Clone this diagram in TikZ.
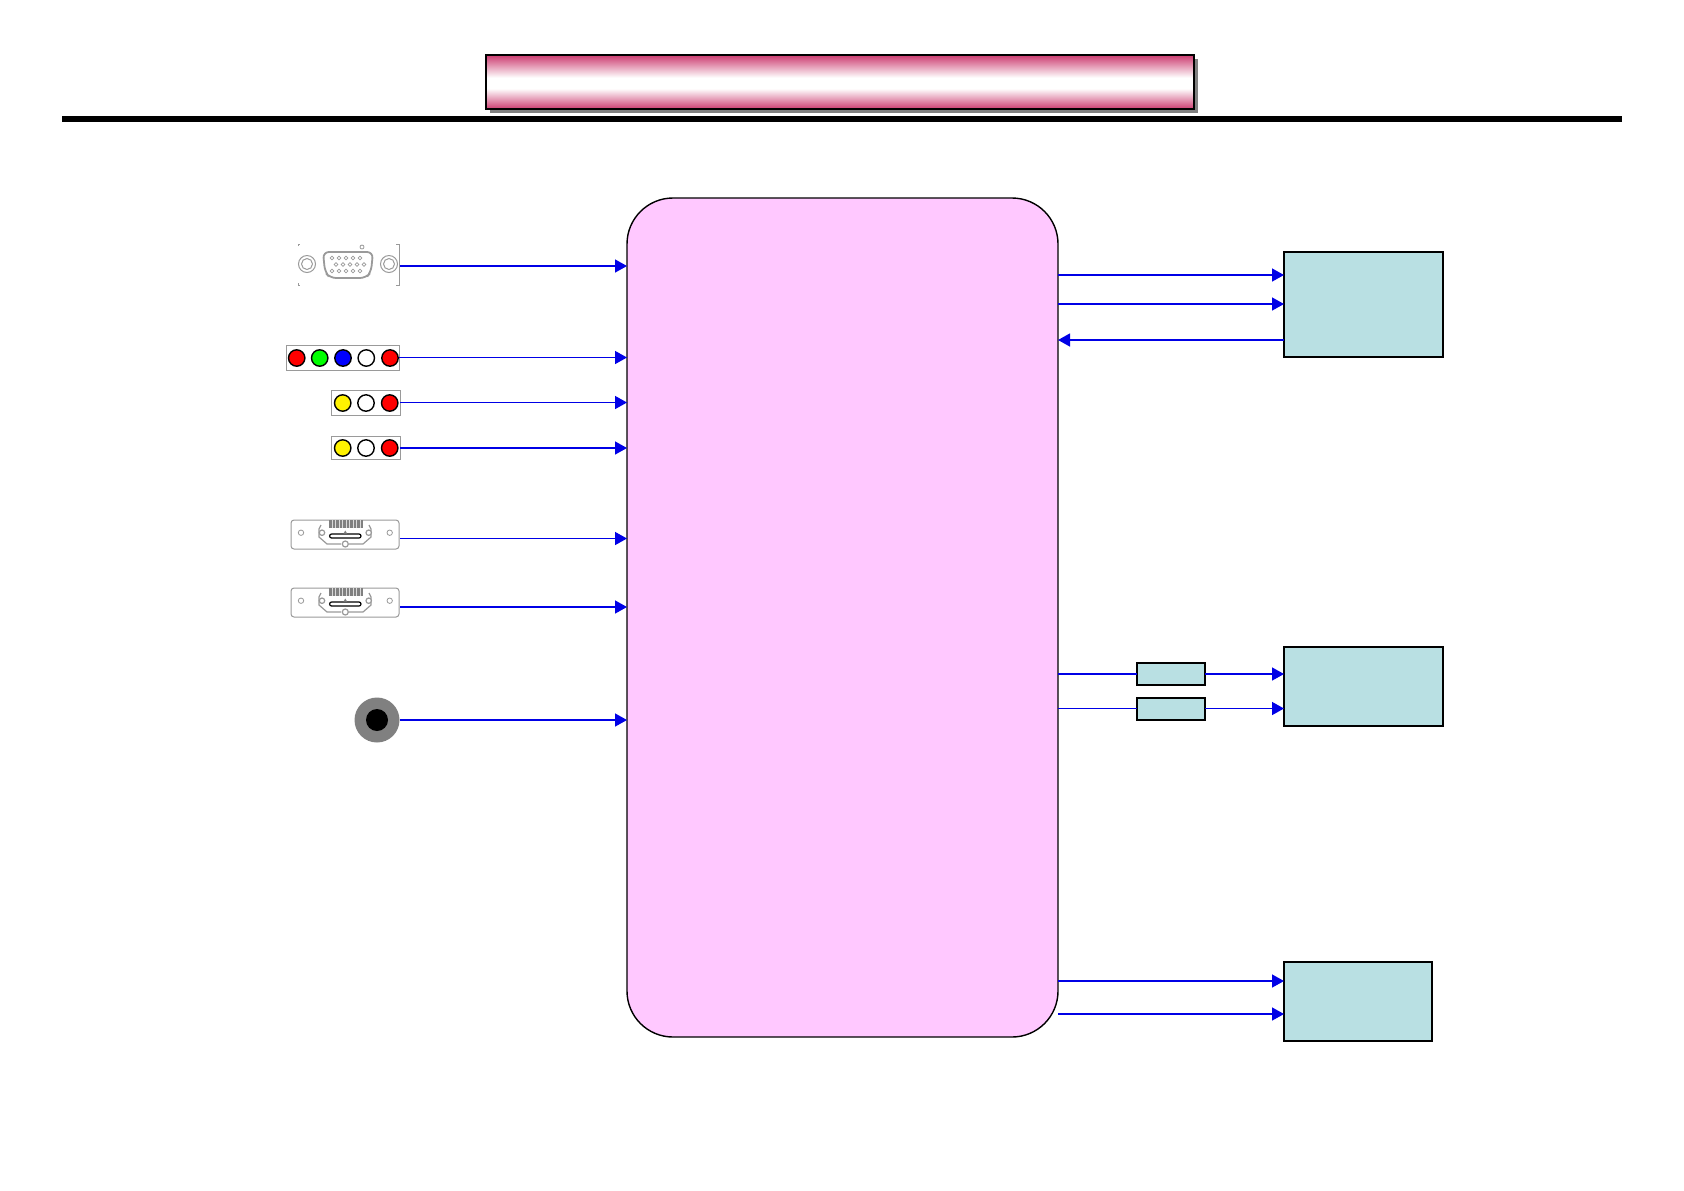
\documentclass[tikz,border=0pt]{standalone}
\usepackage{xcolor}
\usetikzlibrary{arrows.meta, shadows}
\definecolor{chip}{HTML}{FFC8FF}
\definecolor{panel}{HTML}{B9E0E3}
\definecolor{titlepink}{HTML}{CC3C70}
\definecolor{signal}{HTML}{0000E6}
\definecolor{icon}{HTML}{9A9A9A}
\definecolor{jackgreen}{HTML}{00FF00}
\pgfdeclareverticalshading{titlefade}{100bp}{color(0bp)=(titlepink); color(25bp)=(titlepink); color(44bp)=(white); color(54bp)=(white); color(75bp)=(titlepink); color(100bp)=(titlepink)}
\tikzset{
    chipbox/.style={rectangle, rounded corners=23pt, draw=black, line width=0.7pt, fill=chip,
                    minimum width=215.5pt, minimum height=419.5pt, outer sep=0pt},
    panelbox/.style={rectangle, draw=black, line width=1pt, fill=panel, minimum width=79.5pt, outer sep=0pt},
    smallbox/.style={panelbox, minimum width=34pt, minimum height=11pt},
    strip/.style={rectangle, draw=icon, line width=0.4pt, fill=white, minimum height=12.5pt, outer sep=0pt},
    jack/.style={circle, draw=black, line width=0.7pt, minimum size=8.2pt, inner sep=0pt},
    plate/.style={rectangle, rounded corners=1.5pt, draw=icon, line width=0.5pt, fill=white,
                  minimum width=54pt, minimum height=14.5pt, outer sep=0pt},
    arr/.style={-{Triangle[length=6pt, width=6.5pt]}, line width=0.7pt, color=signal},
    wire/.style={line width=0.7pt, color=signal},
    hdmipic/.pic={
        \draw[icon, line width=0.6pt] (30,5) -- (28,9) -- (28,17) -- (36,24) -- (50,24);
        \draw[icon, line width=0.6pt] (58,24) -- (72,24) -- (80,17) -- (80,9) -- (78,5);
        \fill[gray] (38,0) rectangle (72,8.3);
        \foreach \i in {41,44.5,...,70}
            \draw[white!70!gray, line width=0.3pt] (\i,0) -- (\i,8.3);
        \draw[black, line width=0.6pt, rounded corners=1pt] (38.6,14) rectangle (70,18);
        \fill[gray] (54.3,10.5) -- (52.5,13.5) -- (56.1,13.5) -- cycle;
        \draw[icon, line width=0.4pt, fill=white] (10,12.7) circle (2.7);
        \draw[icon, line width=0.4pt, fill=white] (98.7,12.7) circle (2.7);
        \draw[icon, line width=0.6pt, fill=white] (31,12.7) circle (2.7);
        \draw[icon, line width=0.6pt, fill=white] (77.7,12.7) circle (2.7);
        \draw[icon, line width=0.6pt, fill=white] (54.3,24) circle (3);
    },
}
\begin{document}
\begin{tikzpicture}[x=0.5pt, y=-0.5pt]
  \useasboundingbox (0,0) rectangle (1684,1190);

  % Title bar and rule
  \node[rectangle, draw=black, line width=1pt, shading=titlefade,
        minimum width=354pt, minimum height=27pt, outer sep=0pt,
        copy shadow={shadow xshift=2.2pt, shadow yshift=-2.2pt, fill=gray, draw=none}] (title) at (840,82) {};
  \node[rectangle, fill=black, minimum width=780pt, minimum height=3pt, inner sep=0pt] (rule) at (842,119) {};

  % Main chip
  \node[chipbox] (main) at (842.5,617.5) {};

  % Output panels
  \node[panelbox, minimum height=52.5pt] (panela) at (1363.5,304.5) {};
  \node[panelbox, minimum height=39.5pt] (panelb) at (1363.5,686.5) {};
  \node[panelbox, minimum width=74pt, minimum height=39.5pt] (panelc) at (1358,1001.5) {};
  \node[smallbox] (filta) at (1171,674) {};
  \node[smallbox] (filtb) at (1171,708.5) {};

  % VGA connector
  \node[rectangle, minimum width=50.5pt, minimum height=20.5pt, outer sep=0pt] (vga) at (348.5,264.5) {};
  \draw[icon, line width=0.5pt] (396,244) -- (399,244) -- (399,285) -- (396,285);
  \draw[icon, line width=0.5pt] (298,246) -- (298,244) -- (300,244) (298,283) -- (298,285) -- (300,285);
  \foreach \x in {307,389} {
      \draw[icon, line width=0.5pt] (\x,264) circle (8.5);
      \draw[icon, line width=0.5pt] (\x,264) circle (5.5);
  }
  \draw[icon, line width=0.9pt, rounded corners=3pt] (323,252) -- (373,252) -- (371,272) -- (366,278) -- (330,278) -- (325,272) -- cycle;
  \draw[icon, line width=0.4pt] (362,247) circle (2);
  \foreach \i in {0,...,4} {
      \draw[icon, line width=0.4pt] (332+7*\i,258) circle (1.9);
      \draw[icon, line width=0.4pt] (336+7*\i,264.5) circle (1.9);
      \draw[icon, line width=0.4pt] (332+7*\i,271) circle (1.9);
  }
  \coordinate (vgaport) at (400,266);

  % RCA strips
  \node[strip, minimum width=56.5pt] (rgb) at (342.75,357.5) {};
  \node[jack, fill=red] (rgba) at (296.7,358) {};
  \node[jack, fill=jackgreen] (rgbb) at (319.7,358) {};
  \node[jack, fill=blue] (rgbc) at (343,358) {};
  \node[jack, fill=white] (rgbd) at (366.3,358) {};
  \node[jack, fill=red] (rgbe) at (390,358) {};

  \node[strip, minimum width=34.5pt] (cva) at (365.75,402.5) {};
  \node[jack, fill=yellow] (cvaa) at (342.7,403) {};
  \node[jack, fill=white] (cvab) at (366,403) {};
  \node[jack, fill=red] (cvac) at (389.7,403) {};

  \node[strip, minimum width=34.5pt, minimum height=11.5pt] (cvb) at (365.75,448) {};
  \node[jack, fill=yellow] (cvba) at (342.7,448) {};
  \node[jack, fill=white] (cvbb) at (366,448) {};
  \node[jack, fill=red] (cvbc) at (389.7,448) {};

  % HDMI connectors
  \node[plate] (hdmia) at (345,534.5) {};
  \pic at (291,520) {hdmipic};
  \coordinate (hdmiaport) at (400,538.5);
  \node[plate] (hdmib) at (345,602.5) {};
  \pic at (291,588) {hdmipic};
  \coordinate (hdmibport) at (400,607);

  % Audio jack
  \node[circle, fill=gray, minimum size=22.5pt, inner sep=0pt, outer sep=0pt] (audio) at (377,720) {};
  \node[circle, fill=black, minimum size=11pt, inner sep=0pt] (audiohole) at (377,720) {};

  % Inputs
  \draw[arr] (vgaport) -- (vgaport -| main.west);
  \draw[arr] (rgb.east) -- (rgb.east -| main.west);
  \draw[arr] (cva.east) -- (cva.east -| main.west);
  \draw[arr] (cvb.east) -- (cvb.east -| main.west);
  \draw[arr] (hdmiaport) -- (hdmiaport -| main.west);
  \draw[arr] (hdmibport) -- (hdmibport -| main.west);
  \draw[arr] (audio.east) -- (audio.east -| main.west);

  % Outputs
  \coordinate (outa) at (1284,275);
  \coordinate (outb) at (1284,304);
  \coordinate (outc) at (1284,340);
  \coordinate (outd) at (1284,981);
  \coordinate (oute) at (1284,1014);
  \draw[arr] (outa -| main.east) -- (outa);
  \draw[arr] (outb -| main.east) -- (outb);
  \draw[arr] (outc) -- (outc -| main.east);
  \draw[wire] (filta.west -| main.east) -- (filta.west);
  \draw[arr] (filta.east) -- (filta.east -| panelb.west);
  \draw[wire] (filtb.west -| main.east) -- (filtb.west);
  \draw[arr] (filtb.east) -- (filtb.east -| panelb.west);
  \draw[arr] (outd -| main.east) -- (outd);
  \draw[arr] (oute -| main.east) -- (oute);

\end{tikzpicture}
\end{document}
